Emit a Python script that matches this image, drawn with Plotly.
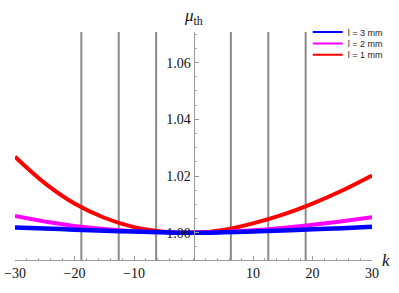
import plotly.graph_objects as go

k = [-30, -25, -20, -15, -10, -5, 0, 5, 10, 15, 20, 25, 30]
mu_l1 = [1.0268, 1.0175, 1.0103, 1.0053, 1.0020, 1.0004, 1.0000, 1.0010, 1.0033, 1.0064, 1.0103, 1.0149, 1.0202]
mu_l2 = [1.0059, 1.00395, 1.0024, 1.0013, 1.00053, 1.00011, 1.0000, 1.00028, 1.00088, 1.0017, 1.0028, 1.0041, 1.0055]
mu_l3 = [1.0019, 1.0015, 1.0011, 1.00074, 1.00042, 1.00016, 1.0000, 1.00018, 1.00046, 1.0008, 1.0012, 1.0016, 1.0021]
vlines_k = [-18.85, -12.57, -6.28, 6.28, 12.57, 18.85]
x_ticks = [-30, -20, -10, 10, 20, 30]
y_ticks = [1.00, 1.02, 1.04, 1.06]

series = [
    ("l = 1 mm", mu_l1, "#ff0000", 4, "legend3"),
    ("l = 2 mm", mu_l2, "#ff00ff", 4, "legend2"),
    ("l = 3 mm", mu_l3, "#0000ff", 4.5, "legend"),
]

fig = go.Figure()
for xv in vlines_k:
    fig.add_vline(x=xv, line=dict(color="#8a8a8a", width=2), layer="below")

for name, vals, col, w, lg in series:
    fig.add_trace(go.Scatter(x=k, y=vals, mode="lines", line=dict(color=col, width=w, shape="spline", smoothing=1.0),
                             name=name, showlegend=False))
for name, vals, col, w, lg in series:
    fig.add_trace(go.Scatter(x=[None], y=[None], mode="lines", line=dict(color=col, width=2),
                             name=name, showlegend=True, legend=lg))

tick_font = dict(family="Liberation Serif, Times New Roman, serif", size=14, color="#111")
leg_font = dict(family="Liberation Sans", size=9, color="#222")

def leg(ypos):
    return dict(x=0.82, y=ypos, xanchor="left", yanchor="middle", font=leg_font,
                bgcolor="rgba(0,0,0,0)", itemwidth=30, borderwidth=0)

fig.update_layout(
    width=399, height=293,
    margin=dict(l=15, r=27, t=32, b=33, autoexpand=False),
    paper_bgcolor="white", plot_bgcolor="white",
    showlegend=True,
    legend=leg(1.0),
    legend2=leg(0.95),
    legend3=leg(0.90),
    xaxis=dict(range=[-30, 30], tickvals=x_ticks, ticktext=["\u221230", "\u221220", "\u221210", "10", "20", "30"],
               ticks="inside", ticklen=4, tickcolor="#999", showline=True, linecolor="#999", linewidth=1,
               showgrid=False, zeroline=False, tickfont=tick_font, automargin=False, layer="above traces",
               minor=dict(dtick=2, ticks="inside", ticklen=2, tickcolor="#aaa")),
    yaxis=dict(range=[0.9904, 1.0708], tickvals=y_ticks, tickformat=".2f",
               anchor="free", position=0.5, side="left", automargin=False, layer="above traces",
               ticks="inside", ticklen=4, tickcolor="#999", showline=True, linecolor="#999", linewidth=1,
               showgrid=False, zeroline=False, tickfont=tick_font,
               minor=dict(dtick=0.005, ticks="inside", ticklen=2, tickcolor="#aaa")),
)
fig.add_annotation(text="<i>\u03bc</i><sub>th</sub>", xref="paper", yref="paper", x=0.5, y=1.0, xanchor="center", yanchor="bottom",
                   showarrow=False, font=dict(family="Liberation Serif", size=17, color="#111"), yshift=2)
fig.add_annotation(text="<i>k</i>", xref="paper", yref="paper", x=1.0, y=0.0, xanchor="left", yanchor="middle",
                   showarrow=False, font=dict(family="Liberation Serif", size=17, color="#111"), xshift=8)

fig.write_html("out.html", config={"displayModeBar": False},
               post_script="document.body.style.margin='0px';")
